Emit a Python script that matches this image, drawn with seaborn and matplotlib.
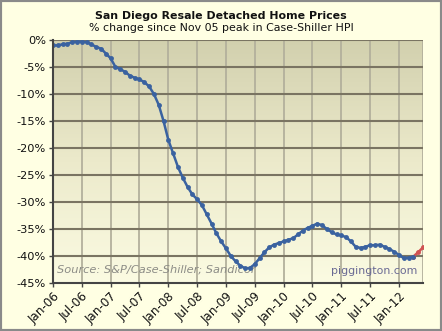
import numpy as np
import pandas as pd
import matplotlib
matplotlib.use("Agg")
import matplotlib.pyplot as plt
import seaborn as sns
from matplotlib.colors import LinearSegmentedColormap

# Monthly % change since Nov-05 peak (Jan-06 .. Mar-12 actual)
actual = [-1.0, -1.0, -0.8, -0.7, -0.4, -0.3, -0.3, -0.4, -0.8, -1.3, -1.6, -2.5,
          -3.4, -5.0, -5.4, -5.9, -6.6, -7.0, -7.3, -7.8, -8.6, -10.0, -12.0, -15.0,
          -18.5, -21.0, -23.5, -25.5, -27.2, -28.6, -29.5, -30.6, -32.3, -34.0, -35.8, -37.3,
          -38.6, -40.0, -41.0, -41.8, -42.3, -42.2, -41.5, -40.4, -39.3, -38.4, -37.9, -37.6,
          -37.3, -37.0, -36.7, -36.0, -35.3, -34.8, -34.4, -34.0, -34.3, -35.0, -35.6, -36.0,
          -36.2, -36.5, -37.3, -38.3, -38.5, -38.3, -38.0, -38.0, -37.9, -38.3, -38.7, -39.2,
          -39.8, -40.4, -40.3, -40.1]
# Estimates (Mar-12 joint, Apr-12, May-12)
estimate = [-40.1, -39.3, -38.4]

x_ticklabels = ["Jan-06", "Jul-06", "Jan-07", "Jul-07", "Jan-08", "Jul-08", "Jan-09",
                "Jul-09", "Jan-10", "Jul-10", "Jan-11", "Jul-11", "Jan-12"]
y_ticks = [0, -5, -10, -15, -20, -25, -30, -35, -40, -45]

df_a = pd.DataFrame({"m": np.arange(len(actual)), "v": actual})
df_e = pd.DataFrame({"m": np.arange(len(actual) - 1, len(actual) - 1 + len(estimate)), "v": estimate})

sns.set_theme(style="white")
plt.rcParams["font.family"] = ["DejaVu Sans"]

fig = plt.figure(figsize=(4.42, 3.31), dpi=100, facecolor="#ffffe3")
ax = fig.add_axes([53/442, 1-283/331, (423-53)/442, (283-40)/331])

cmap = LinearSegmentedColormap.from_list("bg", ["#d2d0ae", "#eceacb", "#fbfbe2"])
grad = np.linspace(0, 1, 256).reshape(-1, 1)
ax.imshow(grad, extent=[0, 1, 0, 1], transform=ax.transAxes, aspect="auto",
          cmap=cmap, zorder=0)

sns.lineplot(data=df_a, x="m", y="v", ax=ax, color="#3a62a0", lw=1.8,
             marker="o", markersize=3.5, markeredgewidth=0, zorder=5)
sns.lineplot(data=df_e, x="m", y="v", ax=ax, color="#d05252", lw=1.8,
             marker="o", markersize=3.5, markeredgewidth=0, zorder=4)

ax.set_xlim(0, 77)
ax.set_ylim(-45, 0)
xt = np.arange(0, 73, 6)
ax.set_xticks(xt)
ax.set_xticklabels(x_ticklabels, rotation=45, ha="right", rotation_mode="anchor",
                   fontsize=8.6, color="#111111")
ax.set_yticks(y_ticks)
ax.set_yticklabels([f"{t}%" for t in y_ticks], fontsize=8.2, color="#111111")
ax.set_xlabel("")
ax.set_ylabel("")
ax.tick_params(axis="both", length=3, width=1, color="#444444", pad=2, direction="out")
ax.tick_params(axis="both", bottom=True, left=True)

for t in xt[1:]:
    ax.axvline(t, color="#b3b09c", lw=1.3, zorder=1)
ax.axvline(77, color="#b3b09c", lw=1.3, zorder=1)
for t in y_ticks[:-1]:
    ax.axhline(t, color="#7a7462", lw=1.5, zorder=2)

for s in ["top", "right"]:
    ax.spines[s].set_visible(False)
for s in ["left", "bottom"]:
    ax.spines[s].set_color("#444444")
    ax.spines[s].set_linewidth(1.5)
    ax.spines[s].set_zorder(6)

ax.text(0.012, 0.035, "Source: S&P/Case-Shiller; Sandicor", transform=ax.transAxes,
        fontsize=8.2, style="italic", color="#8c8c86", ha="left", va="bottom", zorder=3)
ax.text(0.985, 0.03, "piggington.com", transform=ax.transAxes,
        fontsize=7.9, color="#6a6a94", ha="right", va="bottom", zorder=3)

fig.text(0.5, 1-16/331, "San Diego Resale Detached Home Prices", ha="center", va="center",
         fontsize=7.9, fontweight="bold", color="#111111")
fig.text(0.5, 1-28/331, "% change since Nov 05 peak in Case-Shiller HPI", ha="center", va="center",
         fontsize=7.9, color="#111111")

fig.patches.append(plt.Rectangle((0, 0), 1, 1, transform=fig.transFigure, fill=False,
                                 edgecolor="#8a8a8a", lw=3, zorder=10))

fig.savefig("out.png", dpi=100, facecolor=fig.get_facecolor())
